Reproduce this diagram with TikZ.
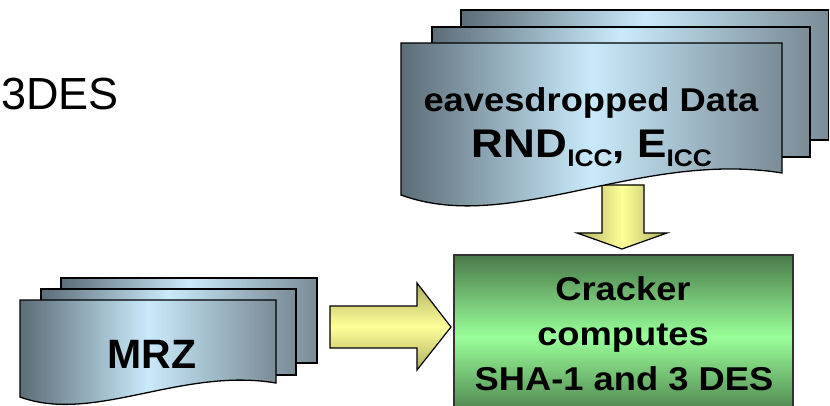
\documentclass[tikz,border=0pt]{standalone}
\usepackage{fontspec}
\setmainfont{Liberation Sans}
\usepackage{graphicx}
\definecolor{docdark}{HTML}{5C6D77}
\definecolor{doclight}{HTML}{C9EAFB}
\definecolor{docright}{HTML}{7A8C96}
\definecolor{ydark}{HTML}{B0B060}
\definecolor{ylight}{HTML}{FFFF99}
\definecolor{gdark}{HTML}{4A7A4A}
\definecolor{glight}{HTML}{99FF99}
\tikzset{
  sheet/.style={draw=black, line width=1.3pt, line join=miter,
    left color=docdark, right color=docright, middle color=doclight},
  harrow/.style={draw=black, line width=1.2pt, line join=miter,
    top color=ydark, bottom color=ydark, middle color=ylight},
  varrow/.style={draw=black, line width=1.2pt, line join=miter,
    left color=ydark, right color=ydark, middle color=ylight},
  greenbox/.style={draw=black!80, line width=1.2pt,
    top color=gdark, bottom color=gdark, middle color=glight},
  bigtxt/.style={font=\fontsize{33}{44}\bfseries\selectfont, inner sep=0pt, anchor=base},
}
\begin{document}
\begin{tikzpicture}[x=1pt,y=-1pt]
\path[use as bounding box, clip] (0,0) rectangle (830,406);

% top stack (eavesdropped data)
\path[sheet] (461,10) rectangle (828.5,140);
\path[sheet] (432,27) rectangle (810,157);
% down arrow (under front sheet)
\path[varrow] (602,185) -- (644,185) -- (644,233) -- (667,233) -- (622,249)
  -- (577,233) -- (602,233) -- cycle;
\path[sheet] (401,43) -- (782,43) -- (782,173)
  .. controls (640,150) and (510,235) .. (401,195) -- cycle;
\node[bigtxt] (eav) at (591,112) {\scalebox{1.1}[1]{eavesdropped Data}};
\node[inner sep=0pt, anchor=base] (rnd) at (592,158)
  {\scalebox{1.1}[1]{\fontsize{40}{44}\bfseries\selectfont RND\raisebox{-9pt}{\fontsize{24}{24}\selectfont ICC}, E\raisebox{-9pt}{\fontsize{24}{24}\selectfont ICC}}};

% MRZ stack
\path[sheet] (61,278) rectangle (317,363);
\path[sheet] (41,289) rectangle (296,375);
\path[sheet] (20,300) -- (276,300) -- (276,383)
  .. controls (181,367) and (94,424) .. (20,397) -- cycle;
\node[inner sep=0pt, anchor=base, font=\fontsize{41}{44}\bfseries\selectfont] (mrz) at (152,368) {MRZ};

% right arrow
\path[harrow] (330,306) -- (417,306) -- (417,283) -- (451,327) -- (417,370)
  -- (417,348) -- (330,348) -- cycle;

% cracker box
\path[greenbox] (454,255) rectangle (793,418);
\node[bigtxt] (c1) at (623,300) {\scalebox{1.1}[1]{Cracker}};
\node[bigtxt] (c2) at (623,345) {\scalebox{1.1}[1]{computes}};
\node[bigtxt] (c3) at (624,390) {\scalebox{1.1}[1]{SHA-1 and 3 DES}};

% 3DES text
\node[inner sep=0pt, anchor=base west, font=\fontsize{45}{50}\selectfont] (des) at (1,110) {3DES};
\end{tikzpicture}
\end{document}
